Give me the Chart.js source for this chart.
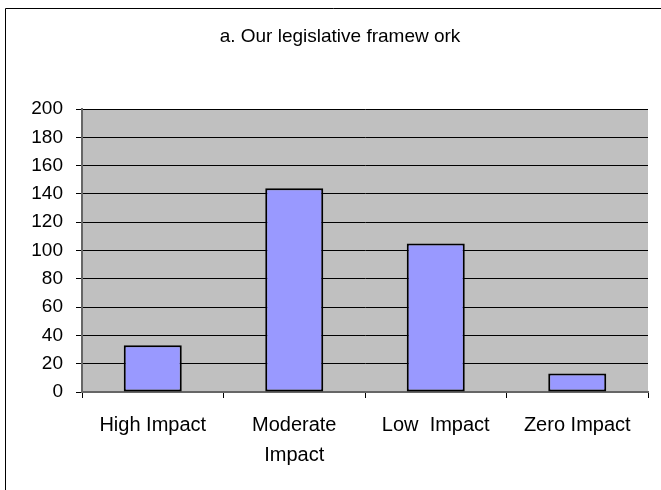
<!DOCTYPE html>
<html>
<head>
<meta charset="utf-8">
<script src="https://cdn.jsdelivr.net/npm/chart.js@4"></script>
<style>
    body { margin: 0; background: #fff; }
</style>
</head>
<body>
<canvas id="myChart" width="661" height="490"></canvas>
<script>
const chartTitle = 'a. Our legislative framew ork';
const categories = ['High Impact', ['Moderate', 'Impact'], 'Low  Impact', 'Zero Impact'];
const impactCounts = [33, 144, 105, 13];
const yMin = 0;
const yMax = 200;
const yStep = 20;

const fontFamily = "'Liberation Sans', Arial, sans-serif";

// grey plot background + the chart frame (frame runs off the right/bottom edges)
const backdrop = {
    id: 'backdrop',
    beforeDraw(chart) {
        const ctx = chart.ctx;
        const a = chart.chartArea;
        ctx.save();
        ctx.fillStyle = '#fff';
        ctx.fillRect(0, 0, chart.width, chart.height);
        ctx.strokeStyle = '#000';
        ctx.lineWidth = 1;
        ctx.beginPath();
        ctx.moveTo(5.5, chart.height);
        ctx.lineTo(5.5, 8.5);
        ctx.lineTo(chart.width, 8.5);
        ctx.stroke();
        ctx.fillStyle = '#C0C0C0';
        ctx.fillRect(a.left, a.top, a.right - a.left, a.bottom - a.top);
        ctx.restore();
    },
    afterDraw(chart) {
        const ctx = chart.ctx;
        ctx.save();
        ctx.fillStyle = '#000';
        ctx.font = '19px ' + fontFamily;
        ctx.textAlign = 'center';
        ctx.textBaseline = 'middle';
        ctx.fillText(chartTitle, 340, 37);
        ctx.restore();
    }
};

var ctx = document.getElementById('myChart');
var myChart = new Chart(ctx, {
    type: 'bar',
    data: {
        labels: categories,
        datasets: [{
            data: impactCounts,
            backgroundColor: '#9999FF',
            borderColor: '#000',
            borderWidth: 2,
            borderSkipped: false,
            barPercentage: 0.41,
            categoryPercentage: 1
        }]
    },
    options: {
        responsive: false,
        animation: false,
        devicePixelRatio: 1,
        layout: { padding: { top: 109, right: 13, left: 0, bottom: 0 } },
        plugins: {
            legend: { display: false },
            tooltip: { enabled: false },
            title: { display: false }
        },
        scales: {
            x: {
                afterFit(scale) { scale.height = 98; },
                grid: {
                    offset: true,
                    drawOnChartArea: false,
                    drawTicks: true,
                    tickLength: 6,
                    tickColor: '#000'
                },
                border: { color: '#666', width: 2 },
                ticks: {
                    color: '#000',
                    padding: 12,
                    maxRotation: 0,
                    font: { family: fontFamily, size: 20, lineHeight: 1.5 }
                }
            },
            y: {
                min: yMin,
                max: yMax,
                afterFit(scale) { scale.width = 82; },
                grid: {
                    color: '#000',
                    lineWidth: 1,
                    drawTicks: true,
                    tickLength: 6,
                    tickColor: '#000'
                },
                border: { color: '#666', width: 2 },
                ticks: {
                    stepSize: yStep,
                    color: '#000',
                    padding: 13,
                    font: { family: fontFamily, size: 19 }
                }
            }
        }
    },
    plugins: [backdrop]
});
</script>
</body>
</html>
